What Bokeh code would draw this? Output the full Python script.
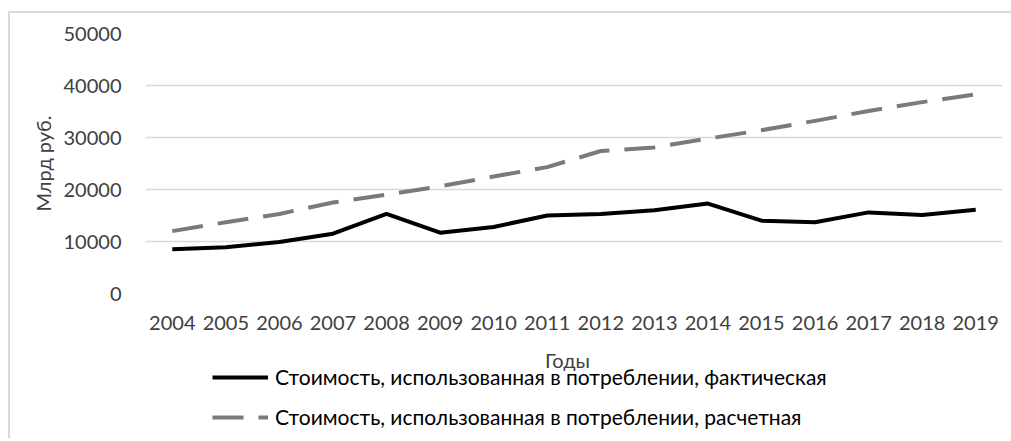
from bokeh.plotting import figure
from bokeh.layouts import column
from bokeh.models import (FactorRange, Range1d, Legend, LegendItem, Label,
                          SingleIntervalTicker, NumeralTickFormatter)
from bokeh.embed import file_html
from bokeh.resources import INLINE

years = ["2004", "2005", "2006", "2007", "2008", "2009", "2010", "2011",
         "2012", "2013", "2014", "2015", "2016", "2017", "2018", "2019"]
actual = [8500, 8900, 9900, 11500, 15300, 11700, 12800, 15000,
          15300, 16000, 17300, 14000, 13700, 15600, 15100, 16100]
estimated = [12000, 13700, 15300, 17500, 19000, 20600, 22500, 24300,
             27400, 28100, 29800, 31400, 33200, 35100, 36800, 38300]

name_actual = "Стоимость, использованная в потреблении, фактическая"
name_est = "Стоимость, использованная в потреблении, расчетная"
y_label = "Млрд руб."
x_label = "Годы"

FONT = "Lato"
TXT = "#404040"
BLACK_STYLE = dict(line_color="black", line_width=4, line_join="round")
GRAY_STYLE = dict(line_color="#7a7a7a", line_width=4, line_dash="31 15", line_join="round")

W = 1001
p = figure(width=W, height=325, x_range=FactorRange(*years),
           y_range=Range1d(0, 50000), output_backend="svg",
           toolbar_location=None, min_border_left=135, min_border_right=9,
           min_border_top=20, min_border_bottom=45)
p.outline_line_color = None
p.background_fill_color = "white"
p.border_fill_color = "white"

p.line(years, actual, **BLACK_STYLE)
p.line(years, estimated, **GRAY_STYLE)

p.yaxis.ticker = SingleIntervalTicker(interval=10000)
p.yaxis.formatter = NumeralTickFormatter(format="0")
p.yaxis.axis_line_color = None
p.yaxis.major_tick_line_color = None
p.yaxis.minor_tick_line_color = None
p.yaxis.major_label_standoff = 18
p.yaxis.axis_label = y_label
p.yaxis.axis_label_standoff = 6

p.xaxis.axis_line_color = None
p.xaxis.major_tick_line_color = None
p.xaxis.major_label_standoff = 16

for ax in (p.xaxis, p.yaxis):
    ax.major_label_text_font = FONT
    ax.major_label_text_font_size = "20px"
    ax.major_label_text_color = TXT
    ax.axis_label_text_font = FONT
    ax.axis_label_text_font_size = "20px"
    ax.axis_label_text_font_style = "normal"
    ax.axis_label_text_color = TXT

p.xgrid.grid_line_color = None
p.ygrid.grid_line_color = "#d9d9d9"
p.ygrid.grid_line_width = 1.5

# lower panel: x-axis title and legend
q = figure(width=W, height=100, x_range=Range1d(0, 857), y_range=Range1d(0, 100),
           output_backend="svg", toolbar_location=None,
           min_border_left=135, min_border_right=9, min_border_top=0, min_border_bottom=0)
q.axis.visible = False
q.grid.visible = False
q.outline_line_color = None
q.background_fill_color = "white"
q.border_fill_color = "white"

q.add_layout(Label(x=422, y=79, text=x_label, text_align="center", text_baseline="middle",
                   text_font=FONT, text_font_size="20px", text_color=TXT))

l1 = q.line([-20, -10], [-20, -10], **BLACK_STYLE)
l2 = q.line([-20, -10], [-20, -10], **GRAY_STYLE)
legend = Legend(items=[LegendItem(label=name_actual, renderers=[l1]),
                       LegendItem(label=name_est, renderers=[l2])],
                location=(67, 9), orientation="vertical")
legend.glyph_width = 56
legend.glyph_height = 20
legend.label_height = 20
legend.label_standoff = 7
legend.spacing = 15
legend.padding = 0
legend.margin = 0
legend.border_line_color = None
legend.background_fill_alpha = 0
legend.label_text_font = FONT
legend.label_text_font_size = "21px"
legend.label_text_color = "black"
q.add_layout(legend, "center")

layout = column(p, q, spacing=0)
layout.styles = {"margin-left": "8px", "margin-top": "11px",
                 "border-left": "2px solid #d9d9d9", "border-top": "2px solid #d9d9d9"}

open("out.html", "w").write(file_html(layout, INLINE))
